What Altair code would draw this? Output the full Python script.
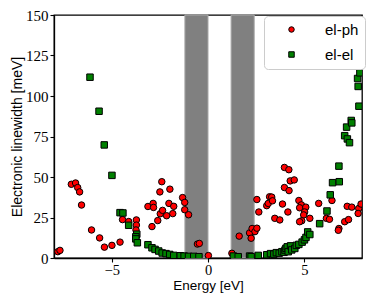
import altair as alt
import pandas as pd

# ---- data ----
ph_energy = [-7.80, -7.69, -7.10, -6.88, -6.77, -6.67, -6.57, -6.05, -5.63, -5.38,
             -4.99, -4.57, -4.44, -4.12, -3.72, -3.72, -3.74, -3.12, -2.91, -2.85,
             -2.83, -2.61, -2.50, -2.48, -2.40, -2.36, -2.15, -2.03, -1.98, -1.83,
             -1.78, -1.32, -1.21, -1.21, -1.01, -0.55, -0.45, 0.02, 1.24, 1.62,
             2.16, 2.24, 2.29, 2.44, 2.54, 2.54, 2.64, 3.05, 3.13, 3.20,
             3.31, 3.35, 3.47, 3.73, 3.87, 3.97, 4.20, 4.27, 4.48, 3.97,
             4.21, 4.15, 4.72, 4.85, 4.76, 5.08, 5.02, 4.97, 4.87, 4.76,
             5.29, 5.75, 6.15, 6.31, 6.44, 6.80, 6.77, 7.10, 7.30, 7.23,
             7.47, 7.83, 7.80, 7.95]
ph_width = [3.9, 4.7, 45.5, 46.3, 43.5, 40.8, 32.7, 17.3, 12.4, 6.7,
            7.8, 9.8, 23.7, 22.5, 23.5, 20.3, 17.3, 31.8, 19.4, 33.7,
            31.2, 23.1, 40.8, 27.3, 47.1, 29.4, 26.1, 33.7, 42.5, 27.4,
            31.9, 37.3, 34.3, 29.8, 26.7, 8.6, 9.0, 1.5, 2.9, 13.5,
            15.5, 12.2, 18.2, 16.3, 18.4, 36.1, 28.4, 32.3, 33.7, 37.8,
            37.6, 35.3, 24.5, 23.5, 33.3, 55.9, 54.5, 47.6, 48.2, 43.5,
            41.6, 28.4, 35.5, 32.8, 31.0, 31.4, 28.4, 26.6, 23.0, 22.4,
            24.5, 33.7, 24.5, 23.9, 35.5, 18.2, 17.1, 22.4, 23.7, 31.9,
            31.4, 30.6, 27.5, 33.3]

el_energy = [-6.13, -5.66, -5.39, -4.99, -4.57, -4.42, -4.12, -3.70, -3.75, -3.75,
             -3.67, -3.12, -2.91, -2.75, -2.56, -2.38, -2.18, -1.99, -1.78, -1.44,
             -1.24, -1.01, -0.74, -0.47, 1.32, 1.57, 2.16, 2.24, 2.61, 3.05,
             3.25, 3.42, 3.55, 3.70, 3.84, 3.95, 4.00, 4.05, 4.12, 4.17,
             4.29, 4.35, 4.51, 4.59, 4.72, 4.89, 5.01, 5.09, 5.18, 5.29,
             5.80, 6.18, 6.35, 6.47, 6.82, 6.80, 7.10, 7.20, 7.24, 7.35,
             7.44, 7.47, 7.80, 7.77, 7.89, 7.84, 7.97, 7.94]
el_width = [111.6, 90.6, 69.8, 51.0, 28.0, 27.8, 20.2, 14.7, 13.1, 11.8,
            9.4, 8.2, 6.3, 5.3, 4.3, 3.1, 2.7, 2.2, 1.6, 1.4,
            1.2, 1.0, 1.0, 0.8, 1.2, 0.8, 1.2, 0.8, 1.6, 2.0,
            2.7, 2.4, 3.3, 3.0, 3.9, 3.5, 4.9, 6.0, 6.9, 3.9,
            7.5, 5.0, 5.9, 7.8, 8.4, 9.8, 11.2, 12.7, 16.1, 14.5,
            21.2, 29.0, 39.0, 46.5, 47.1, 56.7, 75.5, 80.8, 73.5, 71.2,
            84.9, 83.4, 105.9, 110.8, 114.3, 93.7, 120.6, 127.1]

band_start = [-1.2, 1.2]
band_end = [0.0, 2.4]

series_names = ["el-ph", "el-el"]
series_colors = ["#ff0000", "#008000"]
series_shapes = ["circle", "square"]

x_ticks = [-5, 0, 5]
y_ticks = [0, 25, 50, 75, 100, 125, 150]

# ---- tables ----
df = pd.DataFrame({
    "Energy": ph_energy + el_energy,
    "Width": ph_width + el_width,
    "series": [series_names[0]] * len(ph_energy) + [series_names[1]] * len(el_energy),
})
bands = pd.DataFrame({"x1": band_start, "x2": band_end})

W, H = 308, 243

xs = alt.Scale(domain=[-8, 8], nice=False, zero=False)
ys = alt.Scale(domain=[0, 150], nice=False)

x_axis = alt.Axis(title="Energy [eV]", values=x_ticks, grid=False, tickSize=4,
                  labelPadding=1, titlePadding=2, labelFontSize=14.5, titleFontSize=13.5)
y_axis = alt.Axis(title="Electronic linewidth [meV]", values=y_ticks, grid=False,
                  tickSize=4, labelPadding=2, titlePadding=1)

rect = alt.Chart(bands).mark_rect(color="#808080", stroke="#a8a8a8", strokeWidth=1).encode(
    x=alt.X("x1:Q", scale=xs, axis=x_axis),
    x2="x2:Q",
    y=alt.Y(datum=0, scale=ys, axis=y_axis),
    y2=alt.Y2(datum=150),
)

pts = alt.Chart(df).mark_point(filled=True, size=42, stroke="black", strokeWidth=1,
                               opacity=1, clip=True).encode(
    x=alt.X("Energy:Q", scale=xs, axis=x_axis),
    y=alt.Y("Width:Q", scale=ys, axis=y_axis),
    color=alt.Color("series:N", scale=alt.Scale(domain=series_names, range=series_colors),
                    legend=alt.Legend(title=None)),
    shape=alt.Shape("series:N", scale=alt.Scale(domain=series_names, range=series_shapes),
                    legend=alt.Legend(title=None)),
)

chart = alt.layer(rect, pts).properties(
    width=W, height=H,
    autosize=alt.AutoSizeParams(type="none"),
    padding={"left": 46, "top": 7, "right": 4, "bottom": 35},
).configure_view(
    stroke="black", strokeWidth=1.3
).configure_axis(
    domainColor="black", domainWidth=1.3, tickColor="black", tickWidth=1.1,
    labelFont="Liberation Serif", labelFontSize=15, labelColor="black",
    titleFont="Liberation Sans", titleFontSize=14, titleFontWeight="normal", titleColor="black",
).configure_legend(
    orient="none", legendX=210, legendY=1,
    fillColor="white", strokeColor="#cccccc", cornerRadius=4, padding=6,
    labelFont="Liberation Sans", labelFontSize=15, labelColor="black", labelOffset=26,
    symbolSize=30, symbolStrokeColor="black", symbolStrokeWidth=1, rowPadding=9,
    symbolOffset=14,
)

chart.save("out.html", embed_options={"renderer": "svg", "actions": False})
